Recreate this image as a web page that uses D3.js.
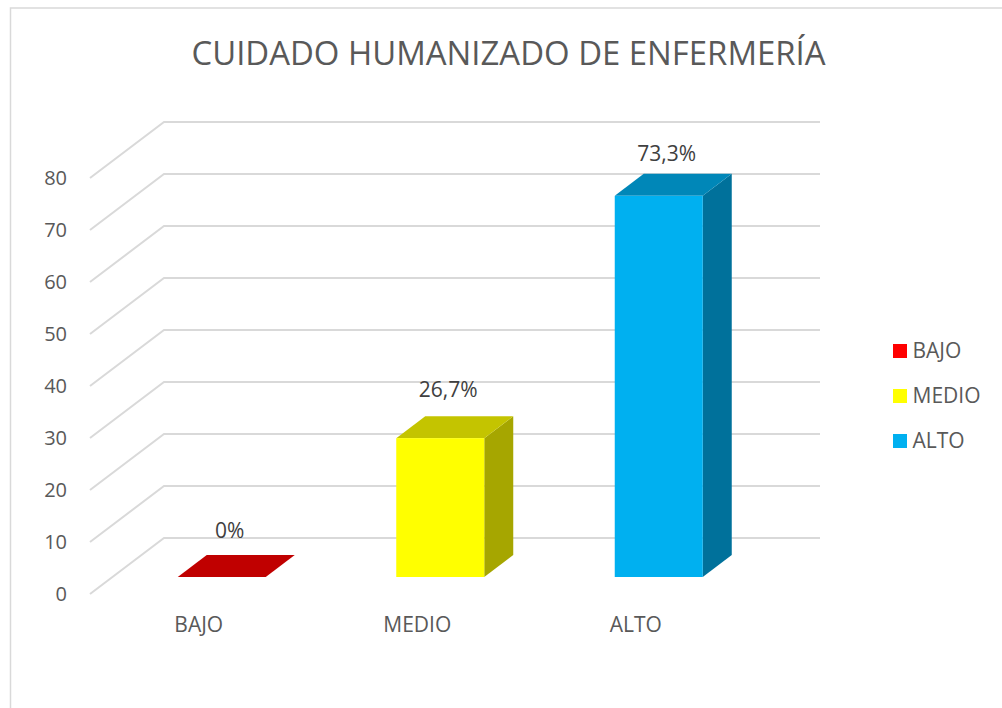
<!DOCTYPE html>
<html>
<head>
<meta charset="utf-8">
<script src="https://cdn.jsdelivr.net/npm/d3@7"></script>
<style>
  html, body { margin: 0; padding: 0; background: #fff; overflow: hidden; }
  text { font-family: "Open Sans", "Noto Sans", sans-serif; fill: #595959; }
</style>
</head>
<body>
<div id="chart"></div>
<script>
var categories = ["BAJO", "MEDIO", "ALTO"];
var values = [0, 26.7, 73.3];
var valueLabels = ["0%", "26,7%", "73,3%"];
var yTicks = [0, 10, 20, 30, 40, 50, 60, 70, 80];
var titleText = "CUIDADO HUMANIZADO DE ENFERMERÍA";

var frontColors = ["#ff0000", "#ffff00", "#00b0f0"];
var topColors = ["#c00000", "#c4c400", "#0087b8"];
var sideColors = ["#a30000", "#a6a600", "#00719b"];

var svgWidth = 1002;
var svgHeight = 708;

var svg = d3.select("#chart")
  .append("svg")
  .attr("width", svgWidth)
  .attr("height", svgHeight);

// Chart frame, only left and top edges fit in the picture
svg.append("path")
  .attr("d", "M10.5,708V8H1002")
  .attr("fill", "none")
  .attr("stroke", "#d9d9d9")
  .attr("stroke-width", 1.5);

svg.append("text")
  .attr("x", 508.5)
  .attr("y", 65)
  .attr("text-anchor", "middle")
  .style("font-size", "32.9px")
  .text(titleText);

// y scale for the front plane of the box
var yScale = d3.scaleLinear().domain([0, 80]).range([594, 178]);
var xBand = d3.scaleBand().domain(categories).range([112.5, 768]);

// how far the back wall is from the front plane
var wallDx = 74;
var wallDy = -56;
var wallRight = 820;

// bars stand part of the way into the box
var barInsetY = -17;
var barDepthX = 29;
var barDepthY = -22;
var barWidth = 88;

// hand placed data labels, Excel does not keep them a fixed distance from the bar
var labelLift = [39, 41, 35];

var grid = svg.append("g");
yTicks.forEach(function(t) {
  var y0 = yScale(t);
  grid.append("polyline")
    .attr("points", [[90, y0], [90 + wallDx, y0 + wallDy], [wallRight, y0 + wallDy]].join(" "))
    .attr("fill", "none")
    .attr("stroke", "#d9d9d9")
    .attr("stroke-width", 2);
});

var axisText = svg.append("g");
axisText.selectAll("text")
  .data(yTicks)
  .enter()
  .append("text")
  .attr("x", 67)
  .attr("y", d => yScale(d) + 6.5)
  .attr("text-anchor", "end")
  .style("font-size", "20px")
  .text(d => d);

var bars = svg.selectAll(".bar")
  .data(categories)
  .enter()
  .append("g")
  .attr("class", "bar");

function barLeft(c) {
  return xBand(c) + (xBand.bandwidth() - barWidth) / 2;
}

// right side face
bars.append("polygon")
  .attr("fill", (d, i) => sideColors[i])
  .attr("points", function(d, i) {
    var x = barLeft(d) + barWidth;
    var y1 = yScale(values[i]) + barInsetY;
    var y0 = yScale(0) + barInsetY;
    return [[x, y1], [x + barDepthX, y1 + barDepthY], [x + barDepthX, y0 + barDepthY], [x, y0]].join(" ");
  });

// top face
bars.append("polygon")
  .attr("fill", (d, i) => topColors[i])
  .attr("points", function(d, i) {
    var x = barLeft(d);
    var y1 = yScale(values[i]) + barInsetY;
    return [[x, y1], [x + barDepthX, y1 + barDepthY], [x + barWidth + barDepthX, y1 + barDepthY], [x + barWidth, y1]].join(" ");
  });

// front face
bars.append("rect")
  .attr("fill", (d, i) => frontColors[i])
  .attr("x", d => barLeft(d))
  .attr("y", (d, i) => yScale(values[i]) + barInsetY)
  .attr("width", barWidth)
  .attr("height", (d, i) => yScale(0) - yScale(values[i]));

bars.append("text")
  .attr("x", d => barLeft(d) + barWidth / 2 + 8)
  .attr("y", (d, i) => yScale(values[i]) + barInsetY - labelLift[i])
  .attr("text-anchor", "middle")
  .style("font-size", "21px")
  .style("fill", "#404040")
  .text((d, i) => valueLabels[i]);

bars.append("text")
  .attr("x", d => barLeft(d) + 21)
  .attr("y", 632)
  .attr("text-anchor", "middle")
  .style("font-size", "21px")
  .text(d => d);

// legend
var legendY = d3.scalePoint().domain(categories).range([351, 441]);
var legend = svg.selectAll(".legend")
  .data(categories)
  .enter()
  .append("g")
  .attr("class", "legend");

legend.append("rect")
  .attr("x", 893)
  .attr("y", d => legendY(d) - 7)
  .attr("width", 14)
  .attr("height", 14)
  .attr("fill", (d, i) => frontColors[i]);

legend.append("text")
  .attr("x", 912.5)
  .attr("y", d => legendY(d) + 7)
  .style("font-size", "21px")
  .text(d => d);
</script>
</body>
</html>
